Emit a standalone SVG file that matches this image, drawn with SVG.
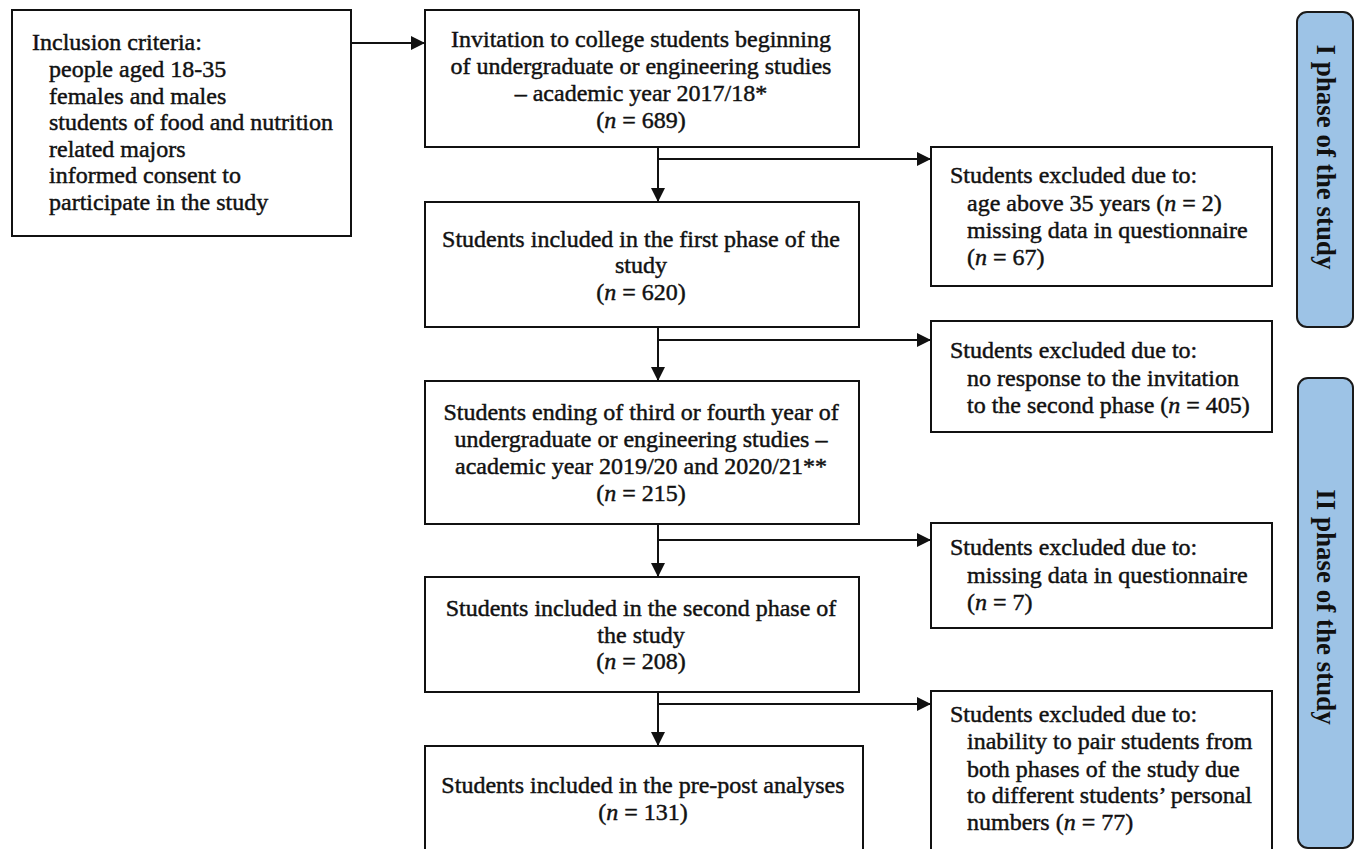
<svg xmlns="http://www.w3.org/2000/svg" width="1357" height="849" viewBox="0 0 1357 849">
<style>
  .box { fill: #ffffff; stroke: #111111; stroke-width: 2; }
  .phase { fill: #9dc3e6; stroke: #1a1a1a; stroke-width: 2; }
  .t { font-family: "Liberation Serif", "Times New Roman", serif; font-size: 24px; fill: #111111; stroke: #111111; stroke-width: 0.45; }
  .c { text-anchor: middle; }
  .pt { font-family: "Liberation Serif", "Times New Roman", serif; font-size: 27px; font-weight: bold; fill: #111111; text-anchor: middle; }
  .conn { stroke: #111111; stroke-width: 2; fill: none; }
  .it { font-style: italic; }
</style>
<defs>
  <marker id="arr" markerUnits="userSpaceOnUse" markerWidth="15" markerHeight="15" refX="14" refY="7" orient="auto">
    <path d="M0,0 L14,7 L0,14 z" fill="#111111"/>
  </marker>
</defs>
<rect x="0" y="0" width="1357" height="849" fill="#ffffff"/>

<g id="inclusion">
  <rect class="box" x="12" y="10" width="339" height="226"/>
  <text class="t" x="32" y="50">Inclusion criteria:</text>
  <text class="t" x="49" y="77">people aged 18-35</text>
  <text class="t" x="49" y="104">females and males</text>
  <text class="t" x="49" y="130">students of food and nutrition</text>
  <text class="t" x="49" y="157">related majors</text>
  <text class="t" x="49" y="183">informed consent to</text>
  <text class="t" x="49" y="210">participate in the study</text>
</g>

<g id="invitation">
  <rect class="box" x="425" y="10" width="434" height="137"/>
  <text class="t c" x="641" y="47">Invitation to college students beginning</text>
  <text class="t c" x="641" y="74">of undergraduate or engineering studies</text>
  <text class="t c" x="641" y="101">– academic year 2017/18*</text>
  <text class="t c" x="641" y="128">(<tspan class="it">n</tspan> = 689)</text>
</g>

<g id="phase1-included">
  <rect class="box" x="425" y="202" width="434" height="125"/>
  <text class="t c" x="641" y="247">Students included in the first phase of the</text>
  <text class="t c" x="641" y="273">study</text>
  <text class="t c" x="641" y="300">(<tspan class="it">n</tspan> = 620)</text>
</g>

<g id="ending-students">
  <rect class="box" x="425" y="381" width="434" height="143"/>
  <text class="t c" x="641" y="420">Students ending of third or fourth year of</text>
  <text class="t c" x="641" y="447">undergraduate or engineering studies –</text>
  <text class="t c" x="641" y="474">academic year 2019/20 and 2020/21**</text>
  <text class="t c" x="641" y="501">(<tspan class="it">n</tspan> = 215)</text>
</g>

<g id="phase2-included">
  <rect class="box" x="425" y="577" width="434" height="115"/>
  <text class="t c" x="641" y="616">Students included in the second phase of</text>
  <text class="t c" x="641" y="643">the study</text>
  <text class="t c" x="641" y="669">(<tspan class="it">n</tspan> = 208)</text>
</g>

<g id="prepost">
  <rect class="box" x="425" y="746" width="438" height="130"/>
  <text class="t c" x="643" y="793">Students included in the pre-post analyses</text>
  <text class="t c" x="643" y="820">(<tspan class="it">n</tspan> = 131)</text>
</g>

<g id="excluded1">
  <rect class="box" x="931" y="147" width="341" height="139"/>
  <text class="t" x="950" y="183">Students excluded due to:</text>
  <text class="t" x="967" y="211">age above 35 years (<tspan class="it">n</tspan> = 2)</text>
  <text class="t" x="967" y="238">missing data in questionnaire</text>
  <text class="t" x="967" y="265">(<tspan class="it">n</tspan> = 67)</text>
</g>

<g id="excluded2">
  <rect class="box" x="931" y="321" width="341" height="111"/>
  <text class="t" x="950" y="358">Students excluded due to:</text>
  <text class="t" x="967" y="386">no response to the invitation</text>
  <text class="t" x="967" y="413">to the second phase (<tspan class="it">n</tspan> = 405)</text>
</g>

<g id="excluded3">
  <rect class="box" x="931" y="523" width="341" height="105"/>
  <text class="t" x="950" y="555">Students excluded due to:</text>
  <text class="t" x="967" y="583">missing data in questionnaire</text>
  <text class="t" x="967" y="610">(<tspan class="it">n</tspan> = 7)</text>
</g>

<g id="excluded4">
  <rect class="box" x="931" y="691" width="341" height="180"/>
  <text class="t" x="950" y="722">Students excluded due to:</text>
  <text class="t" x="967" y="749">inability to pair students from</text>
  <text class="t" x="967" y="777">both phases of the study due</text>
  <text class="t" x="967" y="803">to different students’ personal</text>
  <text class="t" x="967" y="830">numbers (<tspan class="it">n</tspan> = 77)</text>
</g>

<g id="phase-I">
  <rect class="phase" x="1297" y="12" width="56" height="315" rx="10" ry="10"/>
  <text class="pt" transform="translate(1317,157) rotate(90)" x="0" y="0">I phase of the study</text>
</g>

<g id="phase-II">
  <rect class="phase" x="1298" y="378" width="55" height="470" rx="10" ry="10"/>
  <text class="pt" transform="translate(1317,607) rotate(90)" x="0" y="0">II phase of the study</text>
</g>

<g id="connectors">
  <line class="conn" x1="351" y1="43" x2="425" y2="43" marker-end="url(#arr)"/>
  <line class="conn" x1="658" y1="147" x2="658" y2="202" marker-end="url(#arr)"/>
  <line class="conn" x1="658" y1="159" x2="931" y2="159" marker-end="url(#arr)"/>
  <line class="conn" x1="658" y1="327" x2="658" y2="381" marker-end="url(#arr)"/>
  <line class="conn" x1="658" y1="340" x2="931" y2="340" marker-end="url(#arr)"/>
  <line class="conn" x1="658" y1="524" x2="658" y2="577" marker-end="url(#arr)"/>
  <line class="conn" x1="658" y1="540" x2="931" y2="540" marker-end="url(#arr)"/>
  <line class="conn" x1="658" y1="692" x2="658" y2="746" marker-end="url(#arr)"/>
  <line class="conn" x1="658" y1="704" x2="931" y2="704" marker-end="url(#arr)"/>
</g>
</svg>
